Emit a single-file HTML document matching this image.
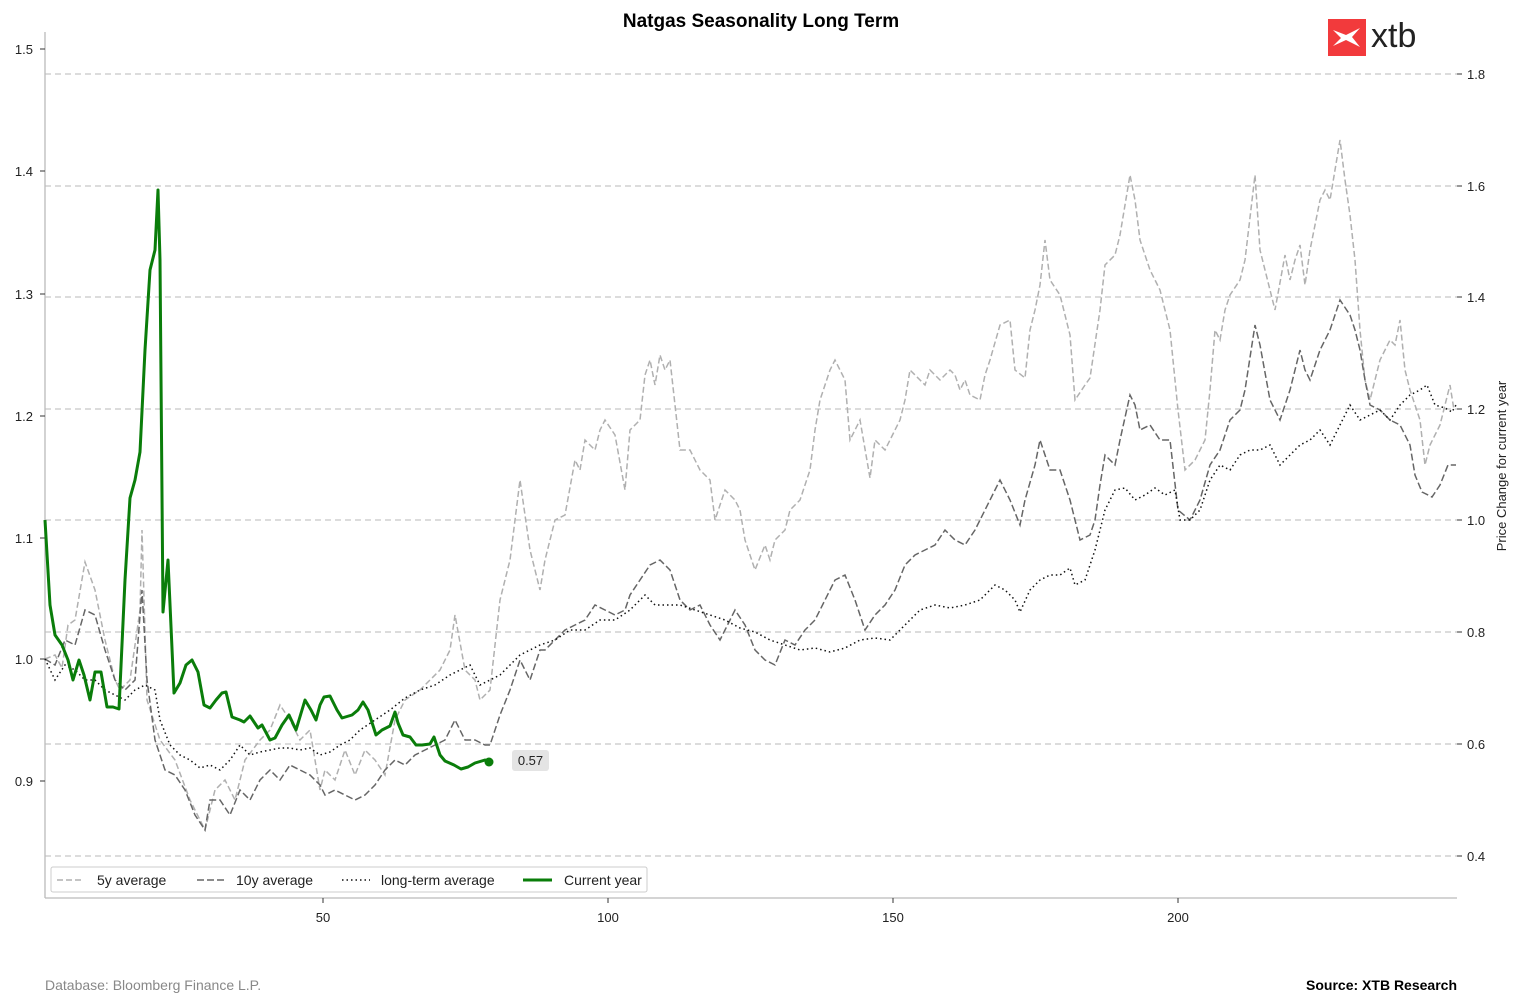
<!DOCTYPE html>
<html><head><meta charset="utf-8"><style>
body{margin:0;background:#fff;}
svg{display:block;font-family:"Liberation Sans",Arial,sans-serif;}
</style></head><body>
<svg width="1522" height="1006" viewBox="0 0 1522 1006">
<rect width="1522" height="1006" fill="#fff"/>
<text x="761" y="27" text-anchor="middle" font-size="19" font-weight="bold" fill="#000">Natgas Seasonality Long Term</text>
<!-- logo -->
<rect x="1328" y="19" width="38" height="37" fill="#f23a3c"/>
<path d="M1333,30 L1346,35 L1360,28 L1352,37 L1360,47 L1346,40 L1333,46 L1341,38 Z" fill="#fff"/>
<text x="1371" y="47" font-size="34" fill="#222">xtb</text>
<!-- grid -->
<g stroke="#c8c8c8" stroke-width="1.3" stroke-dasharray="6,4">
<line x1="45" y1="74" x2="1457" y2="74"/><line x1="45" y1="186" x2="1457" y2="186"/>
<line x1="45" y1="297" x2="1457" y2="297"/><line x1="45" y1="409" x2="1457" y2="409"/>
<line x1="45" y1="520" x2="1457" y2="520"/><line x1="45" y1="632" x2="1457" y2="632"/>
<line x1="45" y1="744" x2="1457" y2="744"/><line x1="45" y1="856" x2="1457" y2="856"/>
</g>
<!-- axes -->
<line x1="45" y1="32" x2="45" y2="898" stroke="#bbb" stroke-width="1.3"/>
<line x1="45" y1="898" x2="1457" y2="898" stroke="#bbb" stroke-width="1.3"/>
<g stroke="#333" stroke-width="1">
<line x1="40" y1="49" x2="45" y2="49"/><line x1="40" y1="171" x2="45" y2="171"/><line x1="40" y1="294" x2="45" y2="294"/><line x1="40" y1="416" x2="45" y2="416"/><line x1="40" y1="538" x2="45" y2="538"/><line x1="40" y1="659" x2="45" y2="659"/><line x1="40" y1="781" x2="45" y2="781"/>
<line x1="1457" y1="74" x2="1462" y2="74"/><line x1="1457" y1="186" x2="1462" y2="186"/><line x1="1457" y1="297" x2="1462" y2="297"/><line x1="1457" y1="409" x2="1462" y2="409"/><line x1="1457" y1="520" x2="1462" y2="520"/><line x1="1457" y1="632" x2="1462" y2="632"/><line x1="1457" y1="744" x2="1462" y2="744"/><line x1="1457" y1="856" x2="1462" y2="856"/>
<line x1="323" y1="898" x2="323" y2="903"/><line x1="608" y1="898" x2="608" y2="903"/><line x1="893" y1="898" x2="893" y2="903"/><line x1="1178" y1="898" x2="1178" y2="903"/>
</g>
<g font-size="13" fill="#222">
<g text-anchor="end"><text x="33" y="54">1.5</text><text x="33" y="176">1.4</text><text x="33" y="299">1.3</text><text x="33" y="421">1.2</text><text x="33" y="543">1.1</text><text x="33" y="664">1.0</text><text x="33" y="786">0.9</text></g>
<text x="1467" y="79">1.8</text><text x="1467" y="191">1.6</text><text x="1467" y="302">1.4</text><text x="1467" y="414">1.2</text><text x="1467" y="525">1.0</text><text x="1467" y="637">0.8</text><text x="1467" y="749">0.6</text><text x="1467" y="861">0.4</text>
<g text-anchor="middle"><text x="323" y="922">50</text><text x="608" y="922">100</text><text x="893" y="922">150</text><text x="1178" y="922">200</text></g>
<text transform="translate(1506,466) rotate(-90)" text-anchor="middle" font-size="13">Price Change for current year</text>
</g>
<!-- series -->
<polyline fill="none" stroke="#b0b0b0" stroke-width="1.5" stroke-dasharray="6,3" points="45,659 55,655 62,668 68,625 75,620 85,562 95,590 105,640 115,680 120,690 130,680 140,610 142,530 147,700 160,740 175,760 190,800 205,830 215,790 225,780 235,800 245,760 260,740 270,730 280,705 290,720 300,740 310,730 320,790 325,770 335,780 345,750 355,775 365,750 375,760 385,775 395,720 405,700 420,690 430,680 440,670 450,650 455,615 465,670 475,680 480,700 490,690 500,600 510,560 515,520 520,480 530,550 540,590 545,560 555,520 565,515 575,460 580,470 585,440 595,450 600,430 605,420 615,435 625,490 630,430 640,420 645,375 650,360 655,385 660,355 665,370 670,360 680,450 690,450 700,470 710,480 715,520 725,490 735,500 740,510 745,540 755,570 765,545 770,560 775,540 785,530 790,510 800,500 810,470 815,430 820,400 830,370 835,360 845,380 850,440 860,420 870,478 875,440 885,450 890,440 900,420 905,400 910,370 920,380 925,385 930,370 940,380 950,370 955,375 960,390 965,380 970,395 980,400 985,375 990,360 1000,325 1010,320 1015,370 1025,378 1030,330 1035,310 1040,285 1045,240 1050,280 1060,295 1070,335 1075,400 1085,385 1090,378 1100,310 1105,265 1115,255 1120,235 1130,175 1135,200 1140,240 1150,270 1160,290 1170,330 1178,410 1185,470 1195,460 1205,440 1210,390 1215,330 1220,340 1225,310 1230,295 1240,280 1245,260 1255,175 1260,250 1270,290 1275,310 1285,255 1290,280 1295,260 1300,245 1305,285 1310,250 1320,200 1325,190 1330,200 1340,140 1345,180 1350,215 1355,260 1360,330 1365,380 1370,400 1380,360 1390,340 1395,345 1400,320 1405,370 1410,390 1420,420 1425,465 1430,445 1440,425 1450,385 1454,410"/>
<polyline fill="none" stroke="#666" stroke-width="1.5" stroke-dasharray="7,3" points="45,659 55,665 65,640 75,645 85,610 95,615 105,650 115,680 125,690 135,680 142,590 147,680 155,740 165,770 175,775 185,790 195,815 205,830 210,800 220,800 230,815 240,790 250,800 260,780 270,770 280,780 290,765 300,770 310,775 320,785 325,795 335,790 345,795 355,800 365,795 375,785 385,770 395,760 405,765 415,755 425,750 435,745 445,740 455,720 465,740 475,740 485,745 490,745 500,715 510,690 520,660 530,680 540,650 545,650 555,640 565,630 575,625 585,620 595,605 605,610 615,615 625,610 630,595 640,580 650,565 660,560 670,570 680,600 690,610 700,605 710,625 720,640 725,630 735,610 745,625 755,650 765,660 775,665 785,640 795,645 805,630 815,620 825,600 835,580 845,575 855,600 865,630 875,615 885,605 895,590 905,565 915,555 925,550 935,545 945,530 955,540 965,545 975,530 985,510 995,490 1000,480 1010,500 1020,525 1025,500 1035,465 1040,440 1050,470 1060,470 1070,500 1080,540 1090,535 1095,520 1100,485 1105,455 1115,465 1120,440 1130,395 1135,405 1140,430 1150,425 1160,440 1170,440 1178,510 1190,520 1200,500 1210,465 1220,450 1230,420 1240,410 1245,390 1255,325 1260,345 1270,400 1280,420 1290,390 1300,350 1305,370 1310,380 1320,350 1330,330 1340,300 1350,315 1355,330 1360,350 1365,380 1370,405 1380,410 1390,420 1400,425 1410,445 1415,475 1422,492 1432,497 1440,485 1448,465 1456,465"/>
<polyline fill="none" stroke="#111" stroke-width="1.5" stroke-dasharray="1.5,3" points="45,659 55,680 65,665 75,670 85,680 95,680 105,690 115,695 125,700 135,690 145,685 155,690 160,720 170,745 180,755 190,760 200,768 210,765 220,770 230,760 240,745 250,755 260,752 270,750 280,748 290,748 300,750 310,748 320,755 330,752 340,745 350,740 360,730 375,720 390,710 405,698 420,690 435,685 450,675 460,670 470,665 480,685 490,680 500,675 510,665 520,655 530,650 540,645 555,640 570,630 585,630 600,620 615,620 630,610 645,595 655,605 665,605 680,605 695,610 710,615 725,620 740,628 755,632 770,640 785,645 800,650 815,648 830,652 845,648 860,640 875,638 890,640 905,625 920,610 935,605 950,608 965,605 980,600 995,585 1005,590 1015,600 1020,612 1030,590 1040,580 1050,575 1060,575 1070,568 1075,585 1085,580 1095,550 1105,510 1115,490 1125,488 1135,500 1145,495 1155,488 1165,495 1175,490 1180,520 1190,520 1200,510 1210,480 1220,465 1230,470 1240,455 1250,450 1260,450 1270,445 1280,465 1290,455 1300,445 1310,440 1320,430 1330,445 1340,425 1350,405 1360,420 1370,415 1380,410 1390,420 1400,405 1410,395 1420,390 1427,385 1435,405 1445,408 1452,412 1456,405"/>
<polyline fill="none" stroke="#0a7d0a" stroke-width="3" stroke-linejoin="round" points="45,520 50,605 55,635 62,645 68,660 73,680 79,660 84,675 90,700 95,672 101,672 107,707 113,707 119,709 125,580 130,498 135,480 140,452 145,350 150,270 155,250 158,190 160,260 163,612 168,560 174,693 180,683 186,665 192,660 198,672 204,705 210,708 216,700 222,693 226,692 232,717 240,720 244,722 250,716 258,728 262,725 270,740 275,738 282,725 289,715 296,730 305,700 311,710 316,720 320,705 324,697 330,696 337,710 342,718 352,715 358,710 363,702 368,710 376,735 382,730 390,726 395,712 398,723 403,735 410,737 416,745 422,745 430,744 434,737 440,755 445,761 454,765 461,769 468,767 475,763 485,760 490,762"/>
<circle cx="489" cy="762" r="4.5" fill="#0a7d0a"/>
<rect x="512" y="750" width="37" height="21" rx="3" fill="#e4e4e4"/>
<text x="530.5" y="765" text-anchor="middle" font-size="13" fill="#222">0.57</text>
<!-- legend -->
<rect x="51" y="867" width="596" height="25" rx="2" fill="#fff" stroke="#ccc"/>
<g font-size="14" fill="#222">
<line x1="57" y1="880" x2="84" y2="880" stroke="#b0b0b0" stroke-width="1.5" stroke-dasharray="6,3"/><text x="97" y="885">5y average</text>
<line x1="197" y1="880" x2="224" y2="880" stroke="#666" stroke-width="1.5" stroke-dasharray="7,3"/><text x="236" y="885">10y average</text>
<line x1="342" y1="880" x2="370" y2="880" stroke="#111" stroke-width="1.5" stroke-dasharray="1.5,3"/><text x="381" y="885">long-term average</text>
<line x1="523" y1="880" x2="552" y2="880" stroke="#0a7d0a" stroke-width="3"/><text x="564" y="885">Current year</text>
</g>
<text x="45" y="990" font-size="14" fill="#888">Database: Bloomberg Finance L.P.</text>
<text x="1457" y="990" font-size="14" font-weight="bold" text-anchor="end" fill="#000">Source: XTB Research</text>
</svg>
</body></html>
